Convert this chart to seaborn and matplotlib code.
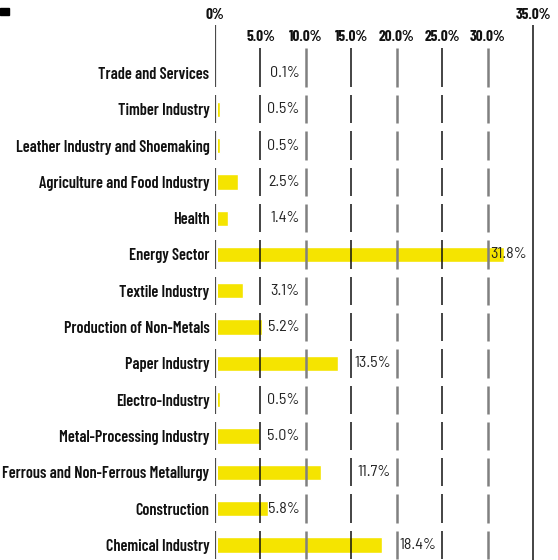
import math
import matplotlib
matplotlib.use("Agg")
import matplotlib.pyplot as plt
from matplotlib.patches import Rectangle
import seaborn as sns
import pandas as pd

categories = [
    "Trade and Services",
    "Timber Industry",
    "Leather Industry and Shoemaking",
    "Agriculture and Food Industry",
    "Health",
    "Energy Sector",
    "Textile Industry",
    "Production of Non-Metals",
    "Paper Industry",
    "Electro-Industry",
    "Metal-Processing Industry",
    "Ferrous and Non-Ferrous Metallurgy",
    "Construction",
    "Chemical Industry",
]
shares = [0.1, 0.5, 0.5, 2.5, 1.4, 31.8, 3.1, 5.2, 13.5, 0.5, 5.0, 11.7, 5.8, 18.4]
tick_values = [0, 5, 10, 15, 20, 25, 30, 35]
tick_labels = ["0%", "5.0%", "10.0%", "15.0%", "20.0%", "25.0%", "30.0%", "35.0%"]

sns.set_style("white")
plt.rcParams["font.family"] = ["Barlow Condensed", "DejaVu Sans"]

W, H, DPI = 558, 560, 100
fig = plt.figure(figsize=(W / DPI, H / DPI), dpi=DPI)

# axes: zero at x=215px, 35% at x=533px; rows 36.3px apart starting at y=73px
x0_px, x35_px = 215, 533
px_per_unit = (x35_px - x0_px) / 35.0
ax = fig.add_axes([x0_px / W, 0, (W - x0_px) / W, 1])
row0_px, row_step = 73, 36.3

def row_of(ypx):
    return (ypx - row0_px) / row_step

df = pd.DataFrame({"sector": categories, "share": shares})
sns.barplot(data=df, x="share", y="sector", orient="h", color="#f5e400",
            saturation=1, width=0.42, ax=ax, zorder=2)

ax.set_xlim(0, (W - x0_px) / px_per_unit)
ax.set_ylim(row_of(H), row_of(0))
for s in ax.spines.values():
    s.set_visible(False)
ax.set_xlabel("")
ax.set_ylabel("")
ax.set_xticks([])
ax.tick_params(axis="y", length=0, pad=4)
for lab in ax.get_yticklabels():
    lab.set_fontsize(11.7)
    lab.set_fontweight(600)
    lab.set_color("#111111")

# small white gap between the zero line and the bar starts
ax.axvspan(0, 0.35, color="white", zorder=2.5, lw=0)

n = len(categories)
half = 0.39
styles = {}
for t in tick_values:
    if t == 0:
        styles[t] = dict(color="#4a4a4a", lw=1.6)
    elif (t // 5) % 2 == 1:
        styles[t] = dict(color="#111111", lw=1.1)
    else:
        styles[t] = dict(color="#808080", lw=1.8)

# row-segmented grid lines
for t in tick_values[:-1]:
    for i in range(n):
        top = i - half
        if i == 0:
            top = row_of(25) if t == 0 else row_of(48)
        ax.vlines(t, top, i + half, zorder=3, **styles[t])
ax.vlines(35, row_of(25), row_of(H), zorder=3, **styles[35])

# staggered axis labels along the top
for t, lab in zip(tick_values, tick_labels):
    ypx = 15 if t in (0, 35) else 37
    ax.text(t, row_of(ypx), lab, ha="center", va="center", fontsize=11,
            fontweight=700, color="#111111", clip_on=False)

# value labels sit inside a 5% cell to the right of each bar
gap = 6 / px_per_unit
for i, v in enumerate(shares):
    cell = min(max(5 * math.ceil(v / 5 - 0.25), 5), 30)
    ax.text(cell + 5 - gap, i, f"{v:.1f}%", ha="right", va="center",
            fontsize=11.5, color="#222222", zorder=4,
            family=["Barlow Semi Condensed", "DejaVu Sans"])

fig.patches.append(Rectangle((0, 1 - 15 / H), 9 / W, 7 / H,
                             transform=fig.transFigure, color="black"))

fig.savefig("out.png", dpi=DPI)
